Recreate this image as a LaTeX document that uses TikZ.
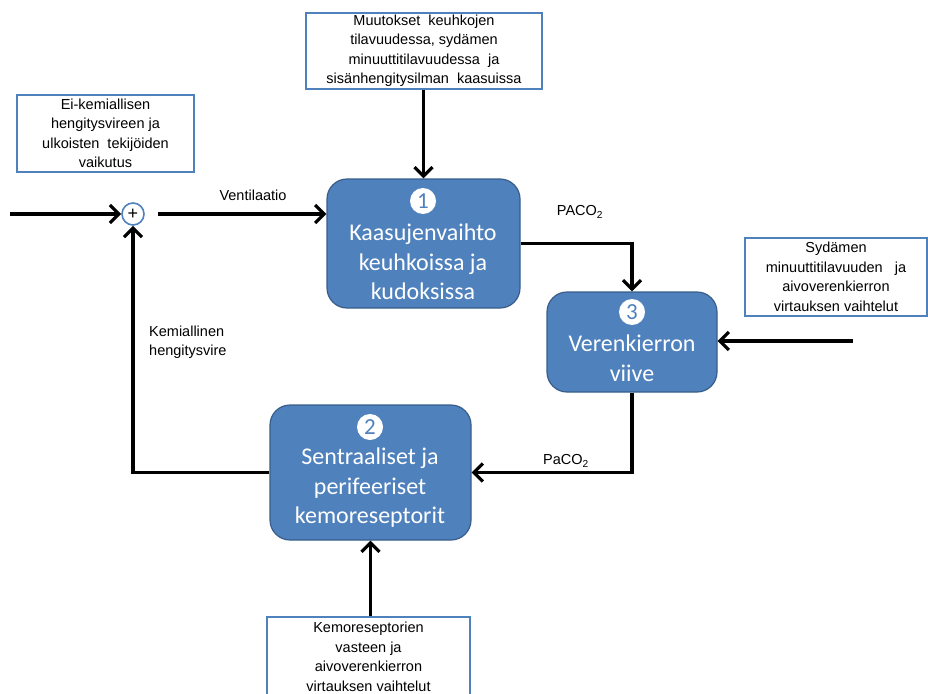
\documentclass[tikz,border=0pt]{standalone}
\usepackage{fontspec}
\setmainfont{Liberation Sans}
\newfontfamily\boxfont{Carlito}
\usetikzlibrary{arrows.meta}
\definecolor{officeblue}{RGB}{79,129,189}
\definecolor{officeedge}{RGB}{56,93,138}

\begin{document}
\begin{tikzpicture}[x=1pt,y=1pt,yscale=-1,
  infobox/.style={draw=officeblue,line width=2pt,fill=white,align=center,inner sep=0pt,font=\fontsize{14.5}{19.5}\selectfont},
  stagebox/.style={draw=officeedge,line width=1.2pt,fill=officeblue,rounded corners=20pt},
  stagetext/.style={text=white,align=center,inner sep=0pt,font=\boxfont\fontsize{24}{29.5}\selectfont},
  stagenum/.style={circle,fill=white,text=officeblue,inner sep=0pt,minimum size=26pt,font=\boxfont\fontsize{23}{23}\selectfont},
  lbl/.style={inner sep=0pt,font=\fontsize{14.5}{19.5}\selectfont},
  flow/.style={line width=3.2pt,-{Straight Barb[length=9pt,width=18pt]}}
]
\useasboundingbox (0,0) rectangle (928,693);

%Outside influences
\node[infobox,minimum width=236pt,minimum height=76pt] (topbox) at (424,51) {Muutokset\ \ keuhkojen\\tilavuudessa, sydämen\\minuuttitilavuudessa\ \ ja\\sisänhengitysilman\ \ kaasuissa};
\node[infobox,minimum width=177pt,minimum height=77pt] (leftbox) at (105.5,133.5) {Ei-kemiallisen\\hengitysvireen ja\\ulkoisten\ \ tekijöiden\\vaikutus};
\node[infobox,minimum width=182pt,minimum height=78pt] (rightbox) at (836,277) {Sydämen\\minuuttitilavuuden\ \ \ ja\\aivoverenkierron\\virtauksen vaihtelut};
\node[infobox,minimum width=203pt,minimum height=90pt] (bottombox) at (368.5,662) {};
\node[lbl,align=center] (bottomtxt) at (368.5,657) {Kemoreseptorien\\vasteen ja\\aivoverenkierron\\virtauksen vaihtelut};

%Stage 1
\node[stagebox,minimum width=193pt,minimum height=129pt] (box1) at (423.5,243.5) {};
\node[stagenum] (num1) at (423,201) {1};
\node[stagetext] (txt1) at (423,262) {Kaasujenvaihto\\keuhkoissa ja\\kudoksissa};

%Stage 3
\node[stagebox,minimum width=170pt,minimum height=100pt] (box3) at (632,342) {};
\node[stagenum] (num3) at (632,312) {3};
\node[stagetext] (txt3) at (632,358) {Verenkierron\\viive};

%Stage 2
\node[stagebox,minimum width=201pt,minimum height=135pt] (box2) at (370.5,472.5) {};
\node[stagenum] (num2) at (370,427) {2};
\node[stagetext] (txt2) at (370,488) {Sentraaliset ja\\perifeeriset\\kemoreseptorit};

%Summing point
\node[circle,draw=officeblue,line width=1.6pt,fill=white,minimum size=22pt,inner sep=0pt,font=\fontsize{18}{18}\selectfont] (sum) at (133,214) {+};
\coordinate (inlet) at (10,214);
\coordinate (cardiac) at (853,341);

%Connectors
\draw[flow] (inlet) -- (sum.west);
\draw[flow,shorten <=13pt] (sum.east) -- (sum.east -| box1.west);
\draw[flow] (box1.north |- topbox.south) -- (box1.north);
\draw[flow] (box1.east) -| (box3.north);
\draw[flow] (cardiac) -- (box3.east |- cardiac);
\draw[flow] (box3.south) |- (box2.east);
\draw[flow] (box2.south |- bottombox.north) -- (box2.south);
\draw[flow] (box2.west) -| (sum.south);

% Text Node
\node[lbl] (ventlbl) at (253,195) {Ventilaatio};
\node[lbl] (pacoA) at (580,212) {PACO\textsubscript{2}};
\node[lbl] (pacoa) at (566,461) {PaCO\textsubscript{2}};
\node[lbl,align=left,anchor=west] (chemlbl) at (149,342) {Kemiallinen\\hengitysvire};

\end{tikzpicture}
\end{document}
